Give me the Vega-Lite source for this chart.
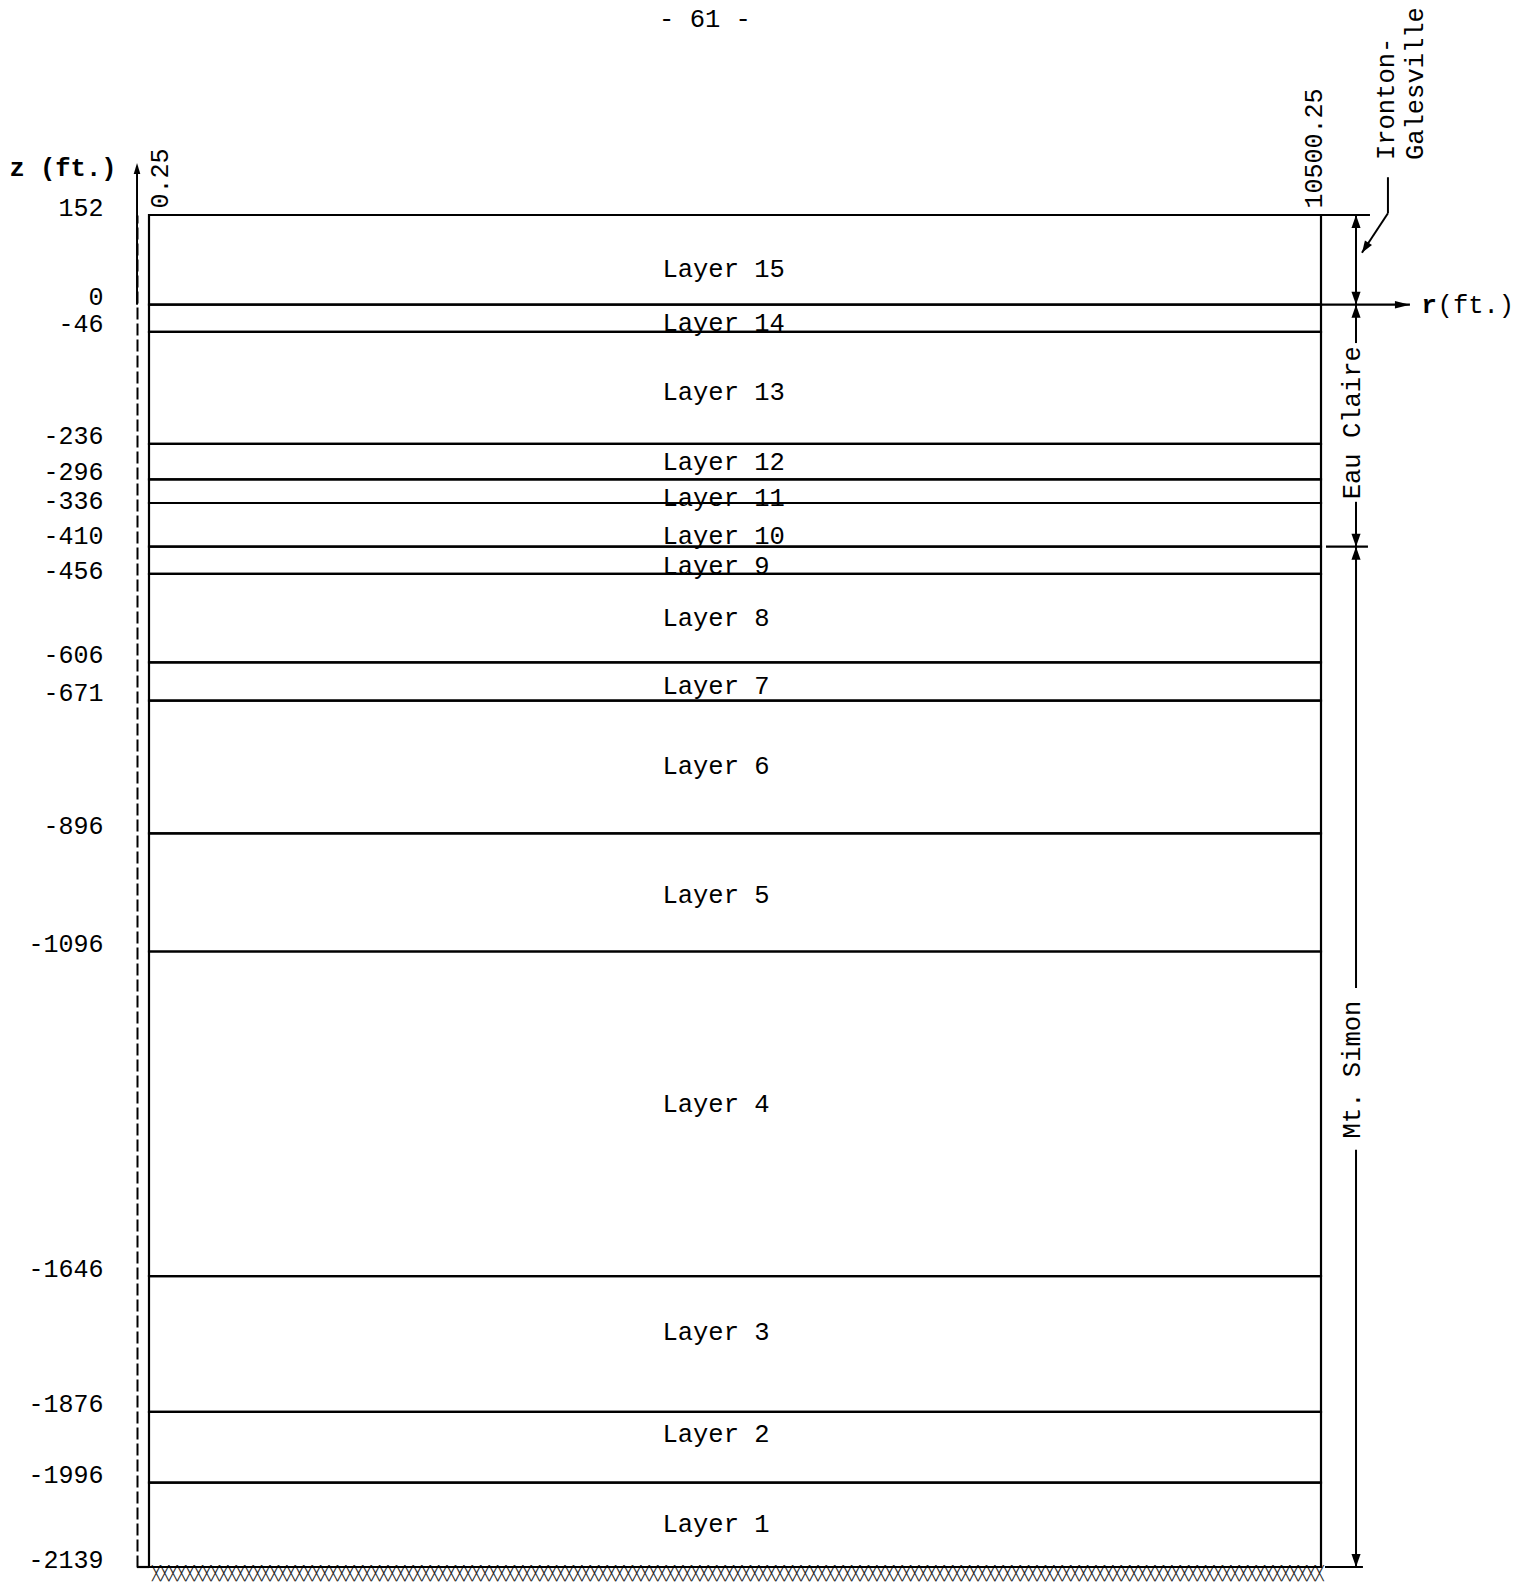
{
  "$schema": "https://vega.github.io/schema/vega-lite/v6.json",
  "width": 1172,
  "height": 1352,
  "autosize": {"type": "none"},
  "padding": {"left": 149, "top": 215, "right": 197, "bottom": 17},
  "background": "white",
  "config": {
    "view": {"stroke": null},
    "font": "Liberation Mono",
    "text": {"font": "Liberation Mono", "fontSize": 25.5, "color": "black"}
  },
  "datasets": {
    "layers": [
      {"layer": "Layer 15", "top": 152, "bottom": 0, "label_z": 61},
      {"layer": "Layer 14", "top": 0, "bottom": -46, "label_z": -31},
      {"layer": "Layer 13", "top": -46, "bottom": -236, "label_z": -148},
      {"layer": "Layer 12", "top": -236, "bottom": -296, "label_z": -266},
      {"layer": "Layer 11", "top": -296, "bottom": -336, "label_z": -327},
      {"layer": "Layer 10", "top": -336, "bottom": -410, "label_z": -392},
      {"layer": "Layer 9", "top": -410, "bottom": -456, "label_z": -442},
      {"layer": "Layer 8", "top": -456, "bottom": -606, "label_z": -531},
      {"layer": "Layer 7", "top": -606, "bottom": -671, "label_z": -646},
      {"layer": "Layer 6", "top": -671, "bottom": -896, "label_z": -781},
      {"layer": "Layer 5", "top": -896, "bottom": -1096, "label_z": -1000},
      {"layer": "Layer 4", "top": -1096, "bottom": -1646, "label_z": -1354},
      {"layer": "Layer 3", "top": -1646, "bottom": -1876, "label_z": -1740},
      {"layer": "Layer 2", "top": -1876, "bottom": -1996, "label_z": -1914},
      {"layer": "Layer 1", "top": -1996, "bottom": -2139, "label_z": -2066}
    ],
    "formations": [
      {"formation": "Ironton-Galesville", "top": 152, "bottom": 0},
      {"formation": "Eau Claire", "top": 0, "bottom": -410, "label_z": -200},
      {"formation": "Mt. Simon", "top": -410, "bottom": -2139, "label_z": -1296}
    ],
    "dim_segments": [
      {"z1": 152, "z2": 0},
      {"z1": 0, "z2": -65},
      {"z1": -334, "z2": -410},
      {"z1": -410, "z2": -1158},
      {"z1": -1432, "z2": -2139}
    ],
    "extensions": [
      {"z": 152, "r1": 10500.25, "r2": 10939},
      {"z": 0, "r1": 10500.25, "r2": 11297},
      {"z": -410, "r1": 10545, "r2": 10921},
      {"z": -2139, "r1": 10536, "r2": 10876},
      {"z": -2139, "r1": -107, "r2": 0.25}
    ],
    "leader": [
      {"r1": 11100, "z1": 216, "r2": 11100, "z2": 155},
      {"r1": 11100, "z1": 155, "r2": 10867, "z2": 88}
    ]
  },
  "layer": [
    {
      "data": {"name": "layers"},
      "mark": {"type": "rect", "fill": "white", "fillOpacity": 0, "stroke": "black", "strokeWidth": 2.2},
      "encoding": {
        "x": {"datum": 0.25, "type": "quantitative",
          "scale": {"domain": [0.25, 10500.25], "nice": false, "zero": false},
          "axis": {"orient": "top", "title": null, "values": [0.25, 10500.25], "domain": false, "ticks": false, "grid": false,
            "labelExpr": "'' + datum.value",
            "labelAngle": -90, "labelAlign": "left", "labelBaseline": "alphabetic", "labelPadding": 7,
            "labelOffset": {"condition": {"test": "datum.value < 100", "value": 18}, "value": 0},
            "labelFont": "Liberation Mono", "labelFontSize": 25, "labelColor": "black", "labelFlush": false, "labelOverlap": false, "labelBound": false}},
        "x2": {"datum": 10500.25},
        "y": {"field": "top", "type": "quantitative",
          "scale": {"domain": [-2139, 152], "nice": false, "zero": false},
          "axis": {"orient": "left", "offset": 12, "title": "z (ft.)", "values": [152, 0, -46, -236, -296, -336, -410, -456, -606, -671, -896, -1096, -1646, -1876, -1996, -2139],
            "labelExpr": "'' + datum.value",
            "labelOffset": {"condition": [{"test": "datum.value == -336", "value": 6}, {"test": "datum.value == -456", "value": 5}, {"test": "datum.value == -410", "value": -3}], "value": 0},
            "domain": true, "domainColor": "black", "domainWidth": 2, "domainDash": [12, 4], "ticks": false, "grid": false,
            "labelPadding": 34, "labelAlign": "right", "labelBaseline": "alphabetic", "labelFont": "Liberation Mono", "labelFontSize": 25, "labelColor": "black",
            "labelFlush": false, "labelOverlap": false, "labelBound": false,
            "titleAngle": 0, "titleAlign": "right", "titleBaseline": "alphabetic", "titleX": -21, "titleY": -40,
            "titleFont": "Liberation Mono", "titleFontSize": 25.5, "titleFontWeight": "bold", "titleColor": "black"}},
        "y2": {"field": "bottom"}
      }
    },
    {
      "data": {"name": "layers"},
      "mark": {"type": "text", "align": "left", "baseline": "middle"},
      "encoding": {
        "x": {"datum": 4600, "type": "quantitative"},
        "y": {"field": "label_z", "type": "quantitative"},
        "text": {"field": "layer"}
      }
    },
    {
      "data": {"name": "dim_segments"},
      "mark": {"type": "rule", "color": "black", "strokeWidth": 2},
      "encoding": {
        "x": {"datum": 10814, "type": "quantitative"},
        "y": {"field": "z1", "type": "quantitative"},
        "y2": {"field": "z2"}
      }
    },
    {
      "data": {"name": "extensions"},
      "mark": {"type": "rule", "color": "black", "strokeWidth": 2.2},
      "encoding": {
        "x": {"field": "r1", "type": "quantitative"},
        "x2": {"field": "r2"},
        "y": {"field": "z", "type": "quantitative"}
      }
    },
    {
      "data": {"name": "leader"},
      "mark": {"type": "rule", "color": "black", "strokeWidth": 2},
      "encoding": {
        "x": {"field": "r1", "type": "quantitative"},
        "x2": {"field": "r2"},
        "y": {"field": "z1", "type": "quantitative"},
        "y2": {"field": "z2"}
      }
    },
    {
      "data": {"name": "formations"},
      "mark": {"type": "point", "shape": "M0,0L-0.35,1L0.35,1Z", "filled": true, "color": "black", "opacity": 1, "size": 676, "strokeWidth": 0},
      "encoding": {
        "x": {"datum": 10814, "type": "quantitative"},
        "y": {"field": "top", "type": "quantitative"}
      }
    },
    {
      "data": {"name": "formations"},
      "mark": {"type": "point", "shape": "M0,0L-0.35,-1L0.35,-1Z", "filled": true, "color": "black", "opacity": 1, "size": 676, "strokeWidth": 0},
      "encoding": {
        "x": {"datum": 10814, "type": "quantitative"},
        "y": {"field": "bottom", "type": "quantitative"}
      }
    },
    {
      "data": {"name": "formations"},
      "transform": [{"filter": "datum.label_z != null"}],
      "mark": {"type": "text", "angle": 270, "align": "center", "baseline": "middle"},
      "encoding": {
        "x": {"datum": 10780, "type": "quantitative"},
        "y": {"field": "label_z", "type": "quantitative"},
        "text": {"field": "formation"}
      }
    },
    {
      "data": {"values": [{"text": ["Ironton-", "Galesville"], "z": 245}]},
      "mark": {"type": "text", "angle": 270, "align": "left", "baseline": "top", "lineHeight": 29},
      "encoding": {
        "x": {"datum": 10975, "type": "quantitative"},
        "y": {"field": "z", "type": "quantitative"},
        "text": {"field": "text"}
      }
    },
    {
      "data": {"values": [{"page": "- 61 -", "z": 471}]},
      "mark": {"type": "text", "align": "center", "baseline": "alphabetic"},
      "encoding": {
        "x": {"datum": 4981, "type": "quantitative"},
        "y": {"field": "z", "type": "quantitative"},
        "text": {"field": "page"}
      }
    },
    {
      "data": {"values": [{"z1": 0, "z2": 232}]},
      "mark": {"type": "rule", "color": "black", "strokeWidth": 2},
      "encoding": {
        "x": {"datum": -107, "type": "quantitative"},
        "y": {"field": "z1", "type": "quantitative"},
        "y2": {"field": "z2"}
      }
    },
    {
      "data": {"values": [{"z": 240}]},
      "mark": {"type": "point", "shape": "M0,0L-0.3,1L0.3,1Z", "filled": true, "color": "black", "opacity": 1, "size": 484, "strokeWidth": 0},
      "encoding": {
        "x": {"datum": -107, "type": "quantitative"},
        "y": {"field": "z", "type": "quantitative"}
      }
    },
    {
      "data": {"values": [{"z": 0}]},
      "mark": {"type": "point", "shape": "M0,0L-1,-0.25L-1,0.25Z", "filled": true, "color": "black", "opacity": 1, "size": 900, "strokeWidth": 0},
      "encoding": {
        "x": {"datum": 11297, "type": "quantitative"},
        "y": {"field": "z", "type": "quantitative"}
      }
    },
    {
      "data": {"values": [{"z": 88}]},
      "mark": {"type": "point", "shape": "M0,0L-0.35,1L0.35,1Z", "angle": 213, "filled": true, "color": "black", "opacity": 1, "size": 576, "strokeWidth": 0},
      "encoding": {
        "x": {"datum": 10867, "type": "quantitative"},
        "y": {"field": "z", "type": "quantitative"}
      }
    },
    {
      "data": {"values": [{"label": "r", "z": 0}]},
      "mark": {"type": "text", "align": "left", "baseline": "middle", "fontWeight": "bold"},
      "encoding": {
        "x": {"datum": 11400, "type": "quantitative"},
        "y": {"field": "z", "type": "quantitative"},
        "text": {"field": "label"}
      }
    },
    {
      "data": {"values": [{"label": "(ft.)", "z": 0}]},
      "mark": {"type": "text", "align": "left", "baseline": "middle"},
      "encoding": {
        "x": {"datum": 11545, "type": "quantitative"},
        "y": {"field": "z", "type": "quantitative"},
        "text": {"field": "label"}
      }
    },
    {
      "data": {"values": [{"hatch": "╳╳╳╳╳╳╳╳╳╳╳╳╳╳╳╳╳╳╳╳╳╳╳╳╳╳╳╳╳╳╳╳╳╳╳╳╳╳╳╳╳╳╳╳╳╳╳╳╳╳╳╳╳╳╳╳╳╳╳╳╳╳╳╳╳╳╳╳╳╳╳╳╳╳╳╳╳╳╳╳╳╳╳╳╳╳╳╳╳╳╳╳╳╳╳╳╳╳╳╳╳╳╳╳╳╳╳╳╳╳╳╳╳╳╳╳╳╳╳╳╳╳╳╳╳╳╳╳╳╳╳╳╳╳╳╳╳╳╳", "z": -2139}]},
      "mark": {"type": "text", "align": "left", "baseline": "top", "font": "DejaVu Sans Mono", "fontSize": 14, "opacity": 0.85},
      "encoding": {
        "x": {"datum": 27, "type": "quantitative"},
        "y": {"field": "z", "type": "quantitative"},
        "text": {"field": "hatch"}
      }
    }
  ]
}
